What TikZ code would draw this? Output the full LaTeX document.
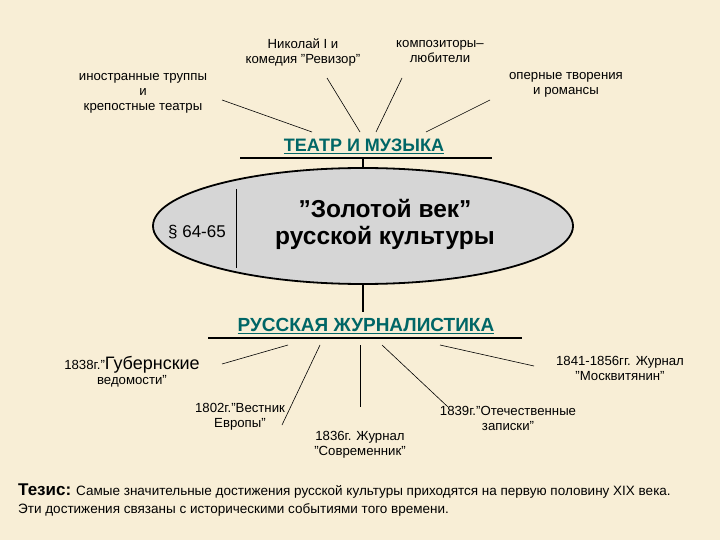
\documentclass[tikz,border=0pt]{standalone}
\usepackage{fontspec}
\setmainfont{Liberation Sans}
\usetikzlibrary{shapes.geometric}
\begin{document}
\begin{tikzpicture}[x=1pt,y=-1pt,
  lbl/.style={align=center,font=\fontsize{13.2}{15}\selectfont,inner sep=1pt},
  head/.style={font=\fontsize{18}{20}\selectfont\bfseries,text=teal!80!black,inner sep=1pt},
  ln/.style={line width=0.6pt}]
\fill[fill={rgb,255:red,248;green,238;blue,214}] (0,0) rectangle (720,540);
\useasboundingbox (0,0) rectangle (720,540);
% ellipse
\node[draw,line width=1.8pt,fill={rgb,255:red,214;green,214;blue,214},ellipse,minimum width=420pt,minimum height=116pt] (E) at (363,226) {};
\draw[ln] (236,189) -- (236,268);
\node[font=\fontsize{17}{19}\selectfont] (par) at (197,232) {§ 64-65};
\node[align=center,font=\fontsize{24.5}{27}\selectfont\bfseries] (gold) at (385,224) {”Золотой век”\\русской культуры};
% theatre
\node[head] (th) at (364,146) {\underline{ТЕАТР И МУЗЫКА}};
\coordinate (thL) at (240,158); \coordinate (thR) at (492,158);
\draw[line width=1.4pt] (thL) -- (thR);
\coordinate (thS) at (363,158);
\draw[line width=1.8pt] (thS) -- (E.north);
\node[lbl] (t1) at (143,93) {иностранные труппы\\и\\крепостные театры};
\node[lbl] (t2) at (303,52) {Николай I и\\комедия "Ревизор"};
\node[lbl] (t3) at (440,52) {композиторы–\\любители};
\node[lbl] (t4) at (566,85) {оперные творения\\и романсы};
\coordinate (a1) at (222,100); \coordinate (b1) at (312,132);
\coordinate (a2) at (327,78); \coordinate (b2) at (360,132);
\coordinate (a3) at (402,78); \coordinate (b3) at (376,132);
\coordinate (a4) at (490,100); \coordinate (b4) at (426,132);
\draw[ln] (a1)--(b1); \draw[ln] (a2)--(b2); \draw[ln] (a3)--(b3); \draw[ln] (a4)--(b4);
% journalism
\node[head,font=\fontsize{19}{21}\selectfont\bfseries] (jr) at (366,326) {\underline{РУССКАЯ ЖУРНАЛИСТИКА}};
\coordinate (jrL) at (208,338); \coordinate (jrR) at (522,338);
\draw[line width=1.6pt] (jrL) -- (jrR);
\coordinate (jrS) at (363,312);
\draw[line width=1.2pt] (E.south) -- (jrS);
\node[lbl,align=center] (j1) at (132,372) {1838г."{\fontsize{18}{19}\selectfont Губернские}\\ведомости"};
\node[lbl] (j2) at (620,368) {1841-1856гг. Журнал\\"Москвитянин"};
\node[lbl] (j3) at (240,417) {1802г."Вестник\\Европы"};
\node[lbl] (j4) at (360,445) {1836г. Журнал\\"Современник"};
\node[lbl] (j5) at (508,418) {1839г."Отечественные\\записки"};
\coordinate (c1) at (288,345); \coordinate (d1) at (222,364);
\coordinate (c2) at (320,345); \coordinate (d2) at (282,425);
\coordinate (c3) at (360,345); \coordinate (d3) at (360,407);
\coordinate (c4) at (382,345); \coordinate (d4) at (448,407);
\coordinate (c5) at (440,345); \coordinate (d5) at (534,366);
\draw[ln] (c1)--(d1); \draw[ln] (c2)--(d2); \draw[ln] (c3)--(d3); \draw[ln] (c4)--(d4); \draw[ln] (c5)--(d5);
% thesis
\node[anchor=west,inner sep=0pt,font=\fontsize{13.5}{15}\selectfont] (th1) at (18,491) {{\fontsize{17}{19}\selectfont\bfseries Тезис:} Самые значительные достижения русской культуры приходятся на первую половину XIX века.};
\node[anchor=west,inner sep=0pt,font=\fontsize{13.5}{15}\selectfont] (th2) at (18,510) {Эти достижения связаны с историческими событиями того времени.};
\end{tikzpicture}
\end{document}
